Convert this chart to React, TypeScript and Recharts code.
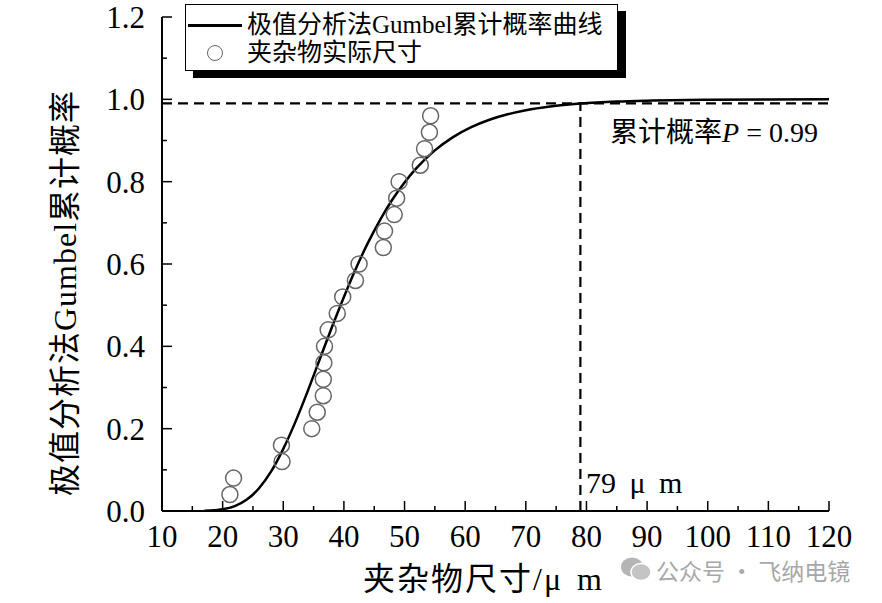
import {
  ComposedChart,
  Line,
  ReferenceLine,
  Scatter,
  XAxis,
  YAxis,
} from "recharts";

// fitted Gumbel curve
const curveX = [17, 18, 20, 22, 24, 26, 28, 30, 32, 34, 36, 38, 40, 42, 44, 46, 48, 50, 52, 55, 58, 61, 64, 67, 70, 74, 79, 85, 90, 100, 110, 120];
const curveP = [0.0005, 0.0011, 0.0041, 0.0119, 0.0277, 0.0552, 0.0961, 0.151, 0.2165, 0.29, 0.368, 0.4456, 0.52, 0.5898, 0.6525, 0.708, 0.7566, 0.798, 0.8333, 0.876, 0.9082, 0.9324, 0.9504, 0.9637, 0.9735, 0.9826, 0.9897, 0.9946, 0.9968, 0.9989, 0.9996, 0.9999];

// measured inclusion sizes and their plotting positions
const sizeX = [21.2, 21.8, 29.8, 29.7, 34.7, 35.6, 36.6, 36.6, 36.7, 36.8, 37.4, 38.9, 39.8, 41.9, 42.5, 46.5, 46.7, 48.3, 48.7, 49.1, 52.6, 53.3, 54.1, 54.3];
const sizeP = [0.04, 0.08, 0.12, 0.16, 0.2, 0.24, 0.28, 0.32, 0.36, 0.4, 0.44, 0.48, 0.52, 0.56, 0.6, 0.64, 0.68, 0.72, 0.76, 0.8, 0.84, 0.88, 0.92, 0.96];

const xTicks = [10, 15, 20, 25, 30, 35, 40, 45, 50, 55, 60, 65, 70, 75, 80, 85, 90, 95, 100, 105, 110, 115, 120];
const yTicks = [0, 0.1, 0.2, 0.3, 0.4, 0.5, 0.6, 0.7, 0.8, 0.9, 1.0, 1.1, 1.2];

const P_LEVEL = 0.99;
const X_AT_P = 79;

const curve = curveX.map((x, i) => ({ x, y: curveP[i] }));
const points = sizeX.map((x, i) => ({ x, y: sizeP[i] }));

const serif = '"Liberation Serif", "Noto Sans CJK SC", serif';

function XTick({ x, y, payload }: any) {
  const major = payload.value % 10 === 0;
  return (
    <g>
      <line x1={x} y1={y} x2={x} y2={y - (major ? 10 : 5)} stroke="#000" strokeWidth={1.5} />
      {major && (
        <text x={x} y={y + 36} textAnchor="middle" fontSize={31} fontFamily={serif} fill="#000">
          {payload.value}
        </text>
      )}
    </g>
  );
}

function YTick({ x, y, payload }: any) {
  const major = Math.round(payload.value * 10) % 2 === 0;
  return (
    <g>
      <line x1={x} y1={y} x2={x + (major ? 10 : 5)} y2={y} stroke="#000" strokeWidth={1.5} />
      {major && (
        <text x={x - 17} y={y + 11} textAnchor="end" fontSize={31} fontFamily={serif} fill="#000">
          {payload.value.toFixed(1)}
        </text>
      )}
    </g>
  );
}

function Ring({ cx, cy }: any) {
  return <circle cx={cx} cy={cy} r={8} fill="none" stroke="#666" strokeWidth={1.5} />;
}

export default function App() {
  return (
    <div style={{ position: "absolute", left: 0, top: 0, width: 882, height: 603, background: "#fff", fontFamily: serif }}>
      <ComposedChart width={882} height={603} margin={{ top: 17, right: 53, left: 0, bottom: 0 }}>
        <XAxis
          type="number"
          dataKey="x"
          domain={[10, 120]}
          ticks={xTicks}
          interval={0}
          allowDataOverflow
          height={92}
          tickSize={0}
          tickMargin={0}
          tickLine={false}
          axisLine={{ stroke: "#000", strokeWidth: 2 }}
          tick={<XTick />}
        />
        <YAxis
          type="number"
          dataKey="y"
          domain={[0, 1.2]}
          ticks={yTicks}
          interval={0}
          allowDataOverflow
          width={162}
          tickSize={0}
          tickMargin={0}
          tickLine={false}
          axisLine={{ stroke: "#000", strokeWidth: 2 }}
          tick={<YTick />}
        />
        <ReferenceLine
          segment={[{ x: 10, y: P_LEVEL }, { x: 120, y: P_LEVEL }]}
          stroke="#000"
          strokeWidth={2.2}
          strokeDasharray="10 6"
        />
        <ReferenceLine
          segment={[{ x: X_AT_P, y: 0 }, { x: X_AT_P, y: P_LEVEL }]}
          stroke="#000"
          strokeWidth={2.2}
          strokeDasharray="10 6"
        />
        <Line
          data={curve}
          dataKey="y"
          type="monotone"
          stroke="#000"
          strokeWidth={2.5}
          dot={false}
          isAnimationActive={false}
        />
        <Scatter data={points} dataKey="y" shape={<Ring />} isAnimationActive={false} />
      </ComposedChart>

      {/* legend */}
      <div
        style={{
          position: "absolute",
          left: 185,
          top: 4,
          width: 431,
          height: 65,
          border: "1.5px solid #000",
          background: "#fff",
          boxShadow: "8px 7px 0 #000",
          fontSize: 25,
          color: "#000",
        }}
      >
        <div style={{ position: "absolute", left: 2, top: 19, width: 54, height: 2.5, background: "#000" }} />
        <div style={{ position: "absolute", left: 61, top: 5, lineHeight: "30px", whiteSpace: "nowrap" }}>
          极值分析法Gumbel累计概率曲线
        </div>
        <div
          style={{
            position: "absolute",
            left: 21,
            top: 40,
            width: 14,
            height: 14,
            borderRadius: "50%",
            border: "1.5px solid #666",
          }}
        />
        <div style={{ position: "absolute", left: 61, top: 33, lineHeight: "30px", whiteSpace: "nowrap" }}>
          夹杂物实际尺寸
        </div>
      </div>

      <div style={{ position: "absolute", left: 610, top: 117, fontSize: 28, lineHeight: "32px", whiteSpace: "nowrap" }}>
        累计概率<i>P</i> = 0.99
      </div>
      <div
        style={{
          position: "absolute",
          left: 586,
          top: 466,
          fontSize: 30,
          lineHeight: "34px",
          wordSpacing: 6,
          whiteSpace: "nowrap",
        }}
      >
        79 μ m
      </div>

      {/* axis titles */}
      <div
        style={{
          position: "absolute",
          left: 363,
          top: 560,
          fontSize: 32,
          lineHeight: "38px",
          letterSpacing: 2,
          wordSpacing: 4,
          whiteSpace: "nowrap",
        }}
      >
        夹杂物尺寸/μ m
      </div>
      <div
        style={{
          position: "absolute",
          left: 65,
          top: 293,
          transform: "translate(-50%, -50%) rotate(-90deg)",
          fontSize: 32,
          lineHeight: "38px",
          letterSpacing: 1,
          whiteSpace: "nowrap",
        }}
      >
        极值分析法Gumbel累计概率
      </div>

      {/* watermark */}
      <svg style={{ position: "absolute", left: 620, top: 555 }} width={32} height={28}>
        <ellipse cx={12} cy={12} rx={11} ry={9.5} fill="#b5b5b5" />
        <ellipse cx={21} cy={17} rx={10} ry={8.5} fill="#c4c4c4" stroke="#fff" strokeWidth={1.5} />
      </svg>
      <div
        style={{
          position: "absolute",
          left: 656,
          top: 557,
          fontSize: 23,
          lineHeight: "26px",
          color: "#a8a8a8",
          fontFamily: '"Noto Sans CJK SC", sans-serif',
          whiteSpace: "nowrap",
        }}
      >
        公众号 · 飞纳电镜
      </div>
    </div>
  );
}
